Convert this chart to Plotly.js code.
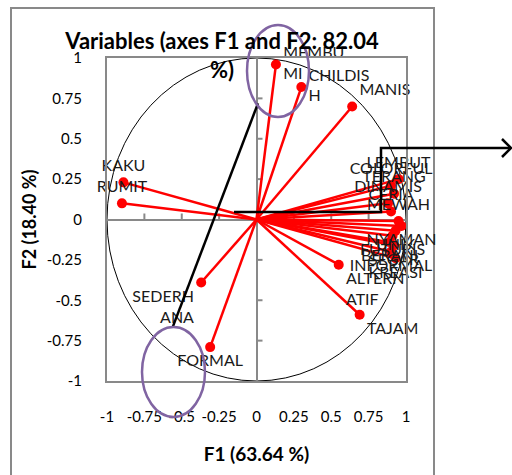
<!DOCTYPE html>
<html>
<head>
<meta charset="utf-8">
<script src="https://cdn.plot.ly/plotly-3.0.1.min.js"></script>
<style>html,body{margin:0;padding:0;background:#fff;}#chart{width:512px;height:475px;}</style>
</head>
<body>
<div id="chart"></div>
<script>
// ---- data (correlations of variables with factors F1 / F2) ----
const variables = ["MEMBU<br>MI","CHILDIS<br>H","MANIS","KAKU","RUMIT","SEDERH<br>ANA","FORMAL","TAJAM","ALTERN<br>ATIF",
  "LEMBUT","COLORFUL","TERANG","DINAMIS","CERIA","MEWAH",
  "NYAMAN","UNIK","FUTURIS","BERANI","SEGAR","INFORMAL","KREASI"];
const f1 = [0.13,0.30,0.64,-0.89,-0.90,-0.37,-0.31,0.69,0.55,
  0.95,0.90,0.92,0.88,0.90,0.95,
  0.97,0.93,0.91,0.89,0.92,0.90,0.93];
const f2 = [0.96,0.82,0.70,0.23,0.10,-0.39,-0.79,-0.59,-0.28,
  0.25,0.21,0.16,0.10,0.05,-0.01,
  -0.04,-0.07,-0.10,-0.14,-0.16,-0.20,-0.24];
const tickVals = [-1,-0.75,-0.5,-0.25,0,0.25,0.5,0.75,1];
const tickText = ["-1","-0.75","-0.5","-0.25","0","0.25","0.5","0.75","1"];
const titleText = "Variables (axes F1 and F2: 82.04<br>%)";
const xTitle = "F1 (63.64 %)";
const yTitle = "F2 (18.40 %)";

// ---- label placement (style) ----
const labelPos = ["middle right","middle right","top right","top center","top center","bottom left","bottom center","bottom right","bottom right",
  "top center","top center","top center","top center","top center","top center",
  "bottom center","bottom center","bottom center","bottom center","bottom center","bottom center","bottom center"];

// ---- geometry helpers for decorations ----
const W=512,H=475,ML=107,MR=106,MT=58,MB=94;
const PW=W-ML-MR, PH=H-MT-MB;
const px=(x)=>(x-ML)/PW, py=(y)=>(H-MB-y)/PH;

// vector lines from origin
const lx=[], ly=[];
f1.forEach((v,i)=>{lx.push(0,v,null); ly.push(0,f2[i],null);});

const font = "Lato, 'Open Sans', sans-serif";
const traces = [
  {type:"scatter",mode:"lines",x:lx,y:ly,line:{color:"#ff0000",width:2.5},hoverinfo:"skip",showlegend:false},
  {type:"scatter",mode:"markers+text",x:f1,y:f2,text:variables,textposition:labelPos,cliponaxis:false,
   marker:{color:"#ff0000",size:10},textfont:{family:font,size:16,color:"#1a1a1a"},showlegend:false}
];

const shapes = [];
// unit circle
shapes.push({type:"circle",xref:"x",yref:"y",x0:-1,x1:1,y0:-1,y1:1,line:{color:"#000",width:1},layer:"below"});
// tick marks on the zero axes
tickVals.forEach(v=>{
  if(v===0||Math.abs(v)===1) return;
  shapes.push({type:"line",xref:"x",yref:"y",ysizemode:"pixel",yanchor:0,x0:v,x1:v,y0:0,y1:6,line:{color:"#898989",width:2},layer:"below"});
  shapes.push({type:"line",xref:"x",yref:"y",xsizemode:"pixel",xanchor:0,y0:v,y1:v,x0:0,x1:6,line:{color:"#898989",width:2},layer:"below"});
});
// black reference line
shapes.push({type:"line",xref:"x",yref:"y",x0:-0.56,y0:-0.665,x1:0.01,y1:0.72,line:{color:"#000",width:2.5}});
// elbow connector with arrow
shapes.push({type:"path",xref:"paper",yref:"paper",
  path:`M ${px(234)},${py(212)} L ${px(381)},${py(212)} L ${px(381)},${py(148)} L ${px(510)},${py(148)}`,
  line:{color:"#000",width:2.5}});
shapes.push({type:"path",xref:"paper",yref:"paper",
  path:`M ${px(502)},${py(139)} L ${px(511)},${py(148)} L ${px(502)},${py(157)}`,
  line:{color:"#000",width:2.5}});
// purple ellipses
shapes.push({type:"circle",xref:"paper",yref:"paper",x0:px(247),x1:px(309),y0:py(117),y1:py(25),line:{color:"#8064A2",width:2.5}});
shapes.push({type:"circle",xref:"paper",yref:"paper",x0:px(142),x1:px(205),y0:py(417),y1:py(327),line:{color:"#8064A2",width:2.5}});
// outer chart frame
shapes.push({type:"rect",xref:"paper",yref:"paper",x0:px(11),x1:px(434),y0:py(490),y1:py(8),line:{color:"#898989",width:2},layer:"below"});

const axisCommon = {range:[-1,1],tickvals:tickVals,ticktext:tickText,ticks:"",showgrid:false,
  zeroline:true,zerolinecolor:"#898989",zerolinewidth:2,showline:true,mirror:true,linecolor:"#898989",linewidth:2,
  tickfont:{family:font,size:15,color:"#000"},fixedrange:true};

const layout = {
  width:W,height:H,margin:{l:ML,r:MR,t:MT,b:MB},
  paper_bgcolor:"#fff",plot_bgcolor:"#fff",
  title:{text:titleText,font:{family:font,size:22,color:"#000",weight:"bold"},x:222/W,xref:"container",xanchor:"center",y:1-49/H,yref:"container",yanchor:"top"},
  xaxis:Object.assign({},axisCommon,{ticklabelstandoff:21,title:{text:xTitle,font:{family:font,size:19,color:"#000",weight:"bold"},standoff:24}}),
  yaxis:Object.assign({},axisCommon,{ticklabelstandoff:20,title:{text:yTitle,font:{family:font,size:18,color:"#000",weight:"bold"},standoff:5}}),
  shapes:shapes,
  showlegend:false
};
Plotly.newPlot("chart",traces,layout,{displayModeBar:false,staticPlot:true});
</script>
</body>
</html>
